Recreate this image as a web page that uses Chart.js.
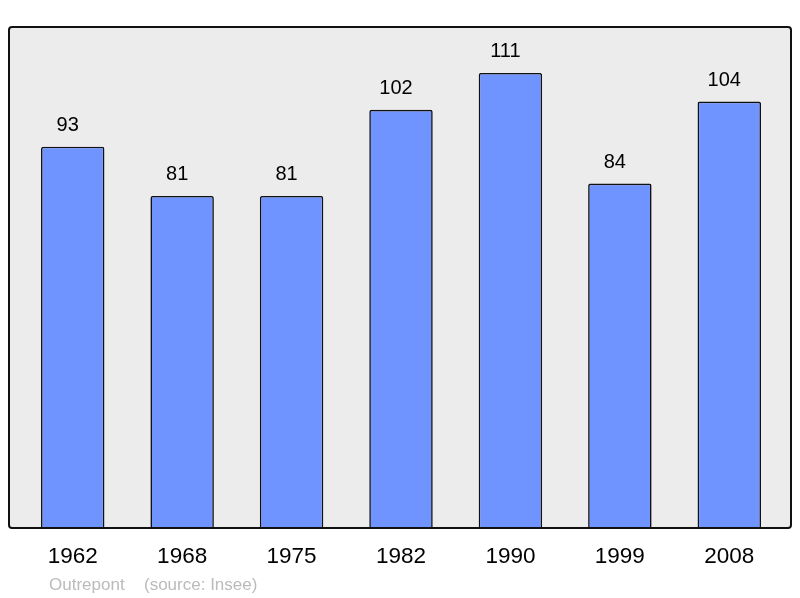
<!DOCTYPE html>
<html>
<head>
<meta charset="utf-8">
<script src="https://cdn.jsdelivr.net/npm/chart.js@4"></script>
<style>
  html, body { margin: 0; padding: 0; background: #fff; }
  #wrap { width: 800px; height: 598px; }
</style>
</head>
<body>
<div id="wrap"><canvas id="chart" width="800" height="598"></canvas></div>
<script>
// population by census year
var years = ['1962', '1968', '1975', '1982', '1990', '1999', '2008'];
var population = [93, 81, 81, 102, 111, 84, 104];
var townName = 'Outrepont';
var sourceText = '(source: Insee)';

// grey panel behind the bars, border on top, plus the texts
var framePlugin = {
    id: 'frame',
    beforeDatasetsDraw: function (chart) {
        var ctx = chart.ctx, a = chart.chartArea;
        ctx.save();
        ctx.fillStyle = '#ececec';
        ctx.beginPath();
        ctx.roundRect(a.left - 9, a.top, a.right - a.left + 16, a.bottom - a.top, 3);
        ctx.fill();
        ctx.restore();
    },
    afterDatasetsDraw: function (chart) {
        var ctx = chart.ctx, a = chart.chartArea;
        ctx.save();
        ctx.strokeStyle = '#111';
        ctx.lineWidth = 2;
        ctx.beginPath();
        ctx.roundRect(a.left - 9, a.top, a.right - a.left + 16, a.bottom - a.top, 3);
        ctx.stroke();

        // value labels over the bars (sit a little left of centre in the original)
        var meta = chart.getDatasetMeta(0);
        ctx.fillStyle = '#000';
        ctx.textAlign = 'center';
        ctx.textBaseline = 'middle';
        ctx.font = '20px "Liberation Sans", Arial, sans-serif';
        meta.data.forEach(function (bar, i) {
            ctx.fillText(population[i], bar.x - 5, bar.y - 21);
        });

        // year labels under the panel
        var xs = chart.scales.x;
        ctx.font = '22.5px "Liberation Sans", Arial, sans-serif';
        years.forEach(function (y, i) {
            ctx.fillText(y, xs.getPixelForValue(i), a.bottom + 29);
        });

        // footer
        ctx.fillStyle = '#bbbbbb';
        ctx.textAlign = 'left';
        ctx.font = '17px "Liberation Sans", Arial, sans-serif';
        ctx.fillText(townName, 49, 585);
        ctx.fillText(sourceText, 144, 585);
        ctx.restore();
    }
};

new Chart(document.getElementById('chart'), {
    type: 'bar',
    data: {
        labels: years,
        datasets: [{
            data: population,
            backgroundColor: '#7094ff',
            borderColor: '#111',
            borderWidth: 1.6,
            borderSkipped: 'bottom',
            borderRadius: 2,
            categoryPercentage: 1,
            barPercentage: 0.58
        }]
    },
    options: {
        responsive: false,
        animation: false,
        layout: { padding: { left: 18, right: 16, top: 27, bottom: 70 } },
        plugins: {
            legend: { display: false },
            tooltip: { enabled: false }
        },
        scales: {
            x: { display: false },
            y: { display: false, min: 0, max: 122.2 }
        }
    },
    plugins: [framePlugin]
});
</script>
</body>
</html>
